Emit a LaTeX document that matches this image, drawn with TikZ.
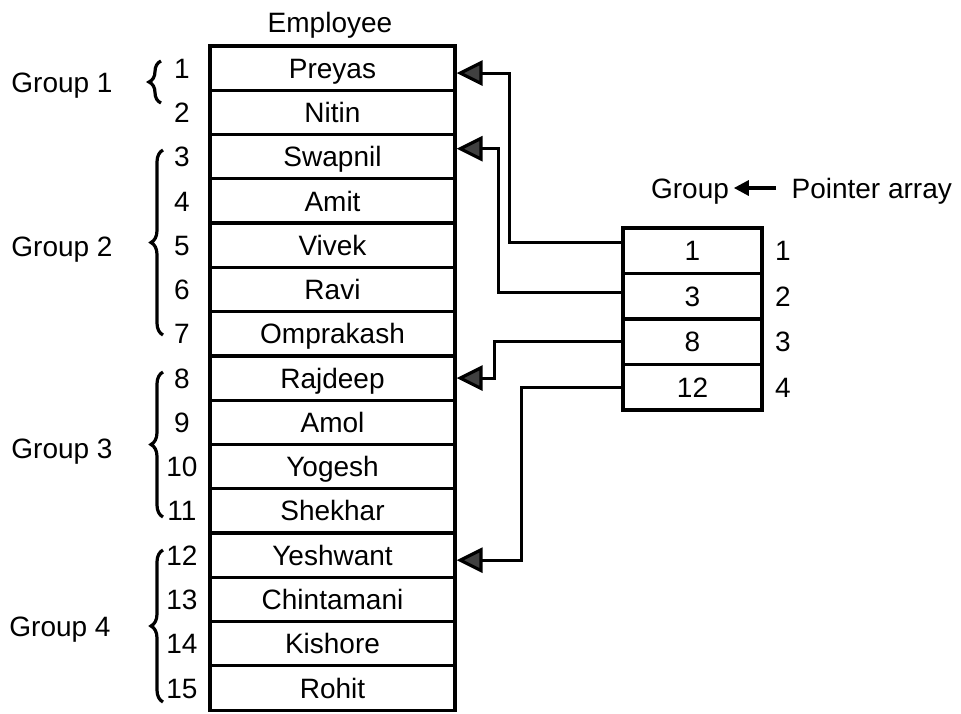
\documentclass[tikz,border=0pt]{standalone}
\usepackage{fontspec}
\setmainfont{Liberation Sans}
\usetikzlibrary{arrows.meta,decorations.pathreplacing}
\begin{document}
\begin{tikzpicture}[x=1pt,y=-1pt,line width=3.2pt,
    font=\fontsize{28}{33}\selectfont,
    every node/.append style={text height=20pt,text depth=0pt},
    cell/.style={draw,minimum width=245pt,minimum height=44.27pt,inner sep=0pt},
    pcell/.style={draw,minimum width=139pt,minimum height=45.5pt,inner sep=0pt},
    ptr/.style={-{Triangle[length=26pt,width=25pt,fill=black!75]}},
    grpbrace/.style={decorate,decoration={brace,amplitude=12pt}}]
      \useasboundingbox (0,0) rectangle (961,713);
      \node (title) at (330,22) {Employee};
      \draw
        (332.5,68.1) node[cell] (e1){Preyas}
        (332.5,112.4) node[cell] (e2){Nitin}
        (332.5,156.7) node[cell] (e3){Swapnil}
        (332.5,201.0) node[cell] (e4){Amit}
        (332.5,245.2) node[cell] (e5){Vivek}
        (332.5,289.5) node[cell] (e6){Ravi}
        (332.5,333.8) node[cell] (e7){Omprakash}
        (332.5,378.1) node[cell] (e8){Rajdeep}
        (332.5,422.3) node[cell] (e9){Amol}
        (332.5,466.6) node[cell] (e10){Yogesh}
        (332.5,510.9) node[cell] (e11){Shekhar}
        (332.5,555.2) node[cell] (e12){Yeshwant}
        (332.5,599.4) node[cell] (e13){Chintamani}
        (332.5,643.7) node[cell] (e14){Kishore}
        (332.5,688.0) node[cell] (e15){Rohit};
      \draw
        (182,68.1) node (n1){1}
        (182,112.4) node (n2){2}
        (182,156.7) node (n3){3}
        (182,201.0) node (n4){4}
        (182,245.2) node (n5){5}
        (182,289.5) node (n6){6}
        (182,333.8) node (n7){7}
        (182,378.1) node (n8){8}
        (182,422.3) node (n9){9}
        (182,466.6) node (n10){10}
        (182,510.9) node (n11){11}
        (182,555.2) node (n12){12}
        (182,599.4) node (n13){13}
        (182,643.7) node (n14){14}
        (182,688.0) node (n15){15};
      \draw
        (62,82) node (g1){Group 1}
        (62,246) node (g2){Group 2}
        (62,448) node (g3){Group 3}
        (60,626) node (g4){Group 4};
      \draw[grpbrace] (161,103) -- (161,61);
      \draw[grpbrace] (163,335) -- (163,150);
      \draw[grpbrace] (163,517) -- (163,372);
      \draw[grpbrace] (163,702) -- (163,550);
      \draw
        (692.5,250.75) node[pcell] (p1){1}
        (692.5,296.25) node[pcell] (p2){3}
        (692.5,341.75) node[pcell] (p3){8}
        (692.5,387.25) node[pcell] (p4){12};
      \draw
        (783,250.75) node (i1){1}
        (783,296.25) node (i2){2}
        (783,341.75) node (i3){3}
        (783,387.25) node (i4){4};
      \node (grp) at (690,188) {Group};
      \node[anchor=west,inner sep=0pt] (parr) at (790,188) {Pointer array};
      \draw[-{Triangle[length=15pt,width=15pt]}] ([xshift=-14pt]parr.west) -- (grp.east);
      \begin{scope}[ptr]
        \draw ([yshift=8pt]p1.west) -- ++(-112,0) |- ([yshift=-5pt]e1.east);
        \draw ([yshift=4pt]p2.west) -- ++(-123,0) |- ([yshift=8pt]e3.east);
        \draw (p3.west) -- ++(-127,0) |- (e8.east);
        \draw (p4.west) -- ++(-100,0) |- ([yshift=-5pt]e12.east);
      \end{scope}
    \end{tikzpicture}
\end{document}
